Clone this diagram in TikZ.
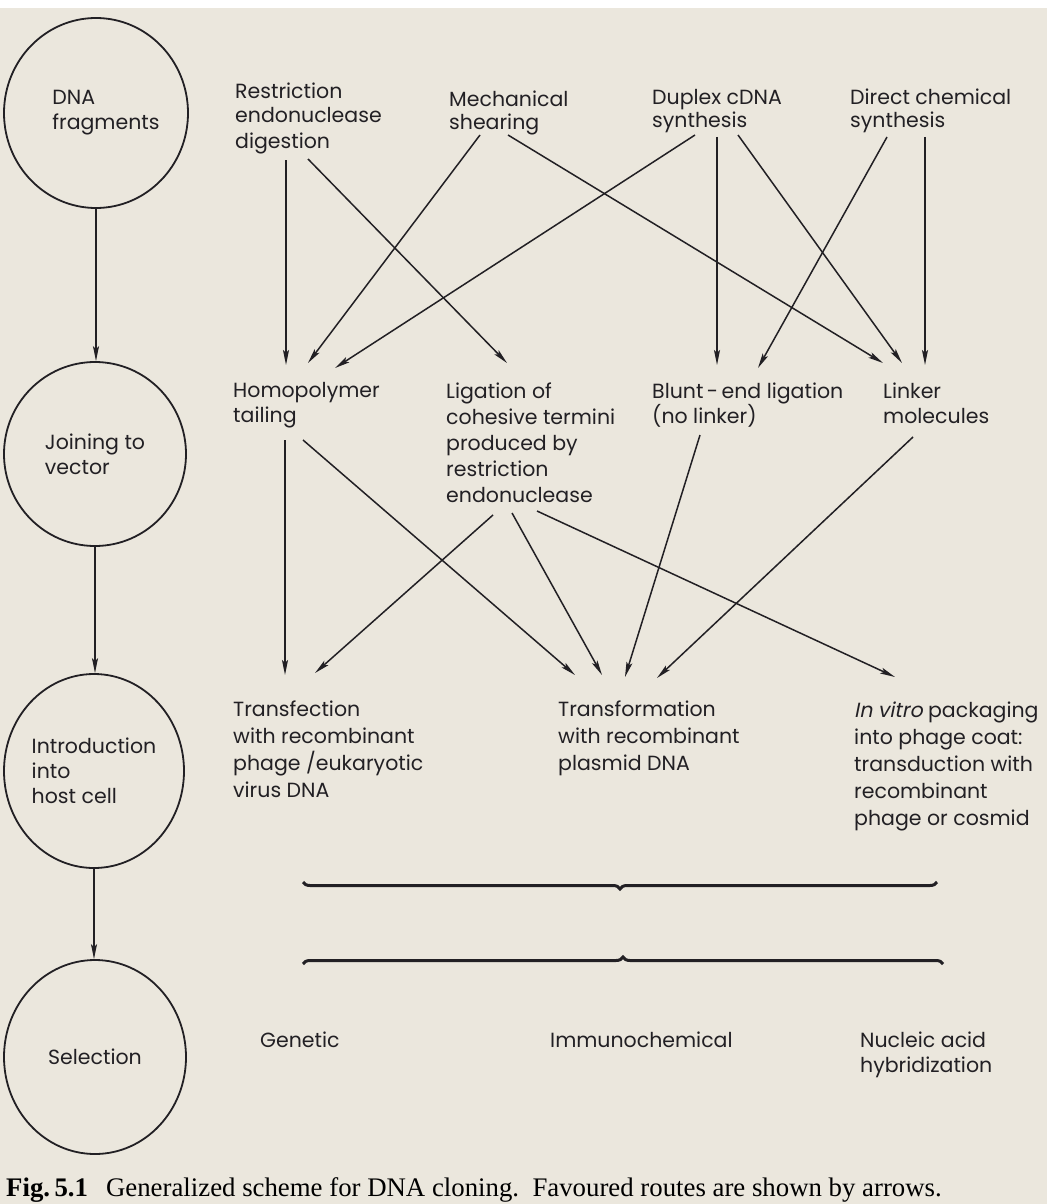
\documentclass[tikz,border=0pt]{standalone}
\usepackage{fontspec}
\usetikzlibrary{arrows.meta,shapes.geometric,decorations.pathreplacing}
\newfontfamily\diag{Poppins}
\newfontfamily\diagit{Poppins}[FakeSlant=0.2]
\newfontfamily\capfont{Liberation Serif}
\definecolor{ink}{RGB}{34,32,36}
\definecolor{paper}{RGB}{235,231,221}
\tikzset{
  lbl/.style={anchor=base west, inner sep=0pt, align=left, text=ink,
    font=\diag\fontsize{20.5}{25}\selectfont},
  lblwide/.style={lbl, font=\diag\fontsize{20.5}{27}\selectfont},
  stage/.style={ellipse, draw=ink, line width=1.8pt, inner sep=0pt, align=left,
    text=ink, font=\diag\fontsize{20.5}{25}\selectfont},
  flow/.style={draw=ink, line width=1.5pt,
    -{Stealth[length=15pt,width=6pt,inset=3pt]}},
  grp/.style={draw=ink, line width=3pt, decorate,
    decoration={brace, amplitude=7pt}}
}
\begin{document}
\begin{tikzpicture}[x=1pt,y=-1pt]
\useasboundingbox (0,0) rectangle (1047,1204);
\fill[paper] (0,0) rectangle (1047,1204);
\fill[white] (0,0) rectangle (1047,8);

% stage circles (text block is placed slightly right of centre in the first one)
\node[stage, minimum width=184pt, minimum height=190pt] (c1) at (96,113) {\hspace*{20pt}DNA\\\hspace*{20pt}fragments};
\node[stage, minimum width=182pt, minimum height=184pt] (c2) at (95,454) {Joining to\\vector};
\node[stage, minimum width=180pt, minimum height=194pt] (c3) at (94,771) {Introduction\\into\\host cell};
\node[stage, minimum width=182pt, minimum height=194pt] (c4) at (95,1057) {Selection};

\draw[flow] (c1.south) -- (c1.south |- c2.north);
\draw[flow] (c2.south) -- (c2.south |- c3.north);
\draw[flow] (c3.south) -- (c3.south |- c4.north);

% first row (node base = baseline of the last line)
\node[lbl] (restr) at (235,148) {Restriction\\endonuclease\\digestion};
\node[lbl, font=\diag\fontsize{20.5}{23}\selectfont] (mech) at (449,129) {Mechanical\\shearing};
\node[lbl, font=\diag\fontsize{20.5}{23}\selectfont] (dup) at (652,128) {Duplex cDNA\\synthesis};
\node[lbl, font=\diag\fontsize{20.5}{23}\selectfont] (dir) at (850,128) {Direct chemical\\synthesis};

% second row
\node[lbl] (homo) at (233,422) {Homopolymer\\tailing};
\node[lbl, font=\diag\fontsize{20.5}{26}\selectfont] (lig) at (446,502) {Ligation of\\cohesive termini\\produced by\\restriction\\endonuclease};
\node[lbl] (blunt) at (652,423) {Blunt\,-\,end ligation\\(no linker)};
\node[lbl] (link) at (883,423) {Linker\\molecules};

% third row
\node[lblwide] (tfec) at (233,797) {Transfection\\with recombinant\\phage /eukaryotic\\virus DNA};
\node[lblwide] (tfor) at (558,770) {Transformation\\with recombinant\\plasmid DNA};
\node[lblwide] (invit) at (854,825) {{\diagit In vitro} packaging\\into phage coat:\\transduction with\\recombinant\\phage or cosmid};

% selection methods
\node[lbl] (gen) at (260,1047) {Genetic};
\node[lbl] (imm) at (550,1047) {Immunochemical};
\node[lbl] (nuc) at (860,1072) {Nucleic acid\\hybridization};

% connector end points
\coordinate (restr-a) at (286,160);  \coordinate (restr-b) at (308,159);
\coordinate (mech-a) at (480,135);   \coordinate (mech-b) at (508,135);
\coordinate (dup-a) at (695,135);    \coordinate (dup-b) at (717,137);  \coordinate (dup-c) at (738,135);
\coordinate (dir-a) at (887,137);    \coordinate (dir-b) at (925,137);
\coordinate (homo-in1) at (286,365); \coordinate (homo-in2) at (308,363); \coordinate (homo-in3) at (335,368);
\coordinate (lig-in) at (507,363);
\coordinate (blunt-in1) at (717,365); \coordinate (blunt-in2) at (758,368);
\coordinate (link-in1) at (883,363); \coordinate (link-in2) at (902,363); \coordinate (link-in3) at (925,365);

\coordinate (homo-a) at (285,440);   \coordinate (homo-b) at (303,440);
\coordinate (lig-a) at (493,515);    \coordinate (lig-b) at (512,513);  \coordinate (lig-c) at (537,511);
\coordinate (blunt-a) at (700,435);  \coordinate (link-a) at (913,437);
\coordinate (tfec-in1) at (285,675); \coordinate (tfec-in2) at (315,673);
\coordinate (tfor-in1) at (575,675); \coordinate (tfor-in2) at (602,675);
\coordinate (tfor-in3) at (625,677); \coordinate (tfor-in4) at (657,678);
\coordinate (invit-in) at (895,677);

\draw[flow] (restr-a) -- (homo-in1);
\draw[flow] (restr-b) -- (lig-in);
\draw[flow] (mech-a) -- (homo-in2);
\draw[flow] (mech-b) -- (link-in1);
\draw[flow] (dup-a) -- (homo-in3);
\draw[flow] (dup-b) -- (blunt-in1);
\draw[flow] (dup-c) -- (link-in2);
\draw[flow] (dir-a) -- (blunt-in2);
\draw[flow] (dir-b) -- (link-in3);

\draw[flow] (homo-a) -- (tfec-in1);
\draw[flow] (homo-b) -- (tfor-in1);
\draw[flow] (lig-a) -- (tfec-in2);
\draw[flow] (lig-b) -- (tfor-in2);
\draw[flow] (lig-c) -- (invit-in);
\draw[flow] (blunt-a) -- (tfor-in3);
\draw[flow] (link-a) -- (tfor-in4);

% braces
\coordinate (b1r) at (937,882); \coordinate (b1l) at (303,882);
\coordinate (b2l) at (303,964); \coordinate (b2r) at (943,964);
\draw[grp] (b1r) -- (b1l);
\draw[grp] (b2l) -- (b2r);

% caption
\node[anchor=base west, inner sep=0pt, text=black, font=\capfont\fontsize{26.8}{30}\selectfont] (cap) at (6,1196)
  {{\bfseries Fig.\,5.1}\hspace{18pt}Generalized scheme for DNA cloning.\ \ Favoured routes are shown by arrows.};
\end{tikzpicture}
\end{document}
